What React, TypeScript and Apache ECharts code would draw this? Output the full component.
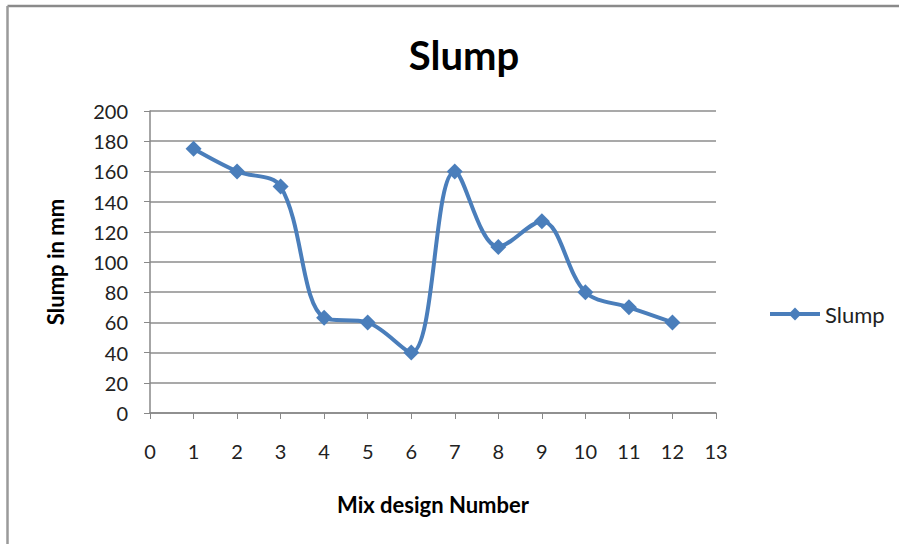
import React, { useEffect, useRef } from "react";
import * as echarts from "echarts";

const mixNumbers = [1, 2, 3, 4, 5, 6, 7, 8, 9, 10, 11, 12];
const slumpValues = [175, 160, 150, 63, 60, 40, 160, 110, 127, 80, 70, 60];
const seriesName = "Slump";
const titleText = "Slump";
const xAxisName = "Mix design Number";
const yAxisName = "Slump in mm";

export default function App() {
  const ref = useRef<HTMLDivElement>(null);
  useEffect(() => {
    const chart = echarts.init(ref.current!, null, { renderer: "svg" });
    const font = "Lato, 'Open Sans', sans-serif";
    chart.setOption({
      animation: false,
      backgroundColor: "#ffffff",
      textStyle: { fontFamily: font },
      title: {
        text: titleText,
        left: 459,
        top: 30,
        textAlign: "center",
        textStyle: { fontSize: 40, fontWeight: "bold", color: "#000", fontFamily: font },
      },
      legend: {
        data: [seriesName],
        left: 768,
        top: 303,
        padding: 0,
        itemWidth: 50,
        itemHeight: 16,
        itemGap: 4,
        lineStyle: { width: 4 },
        textStyle: { fontSize: 22, color: "#222", fontFamily: font },
      },
      grid: { left: 150, top: 111, width: 566, height: 302, containLabel: false },
      xAxis: {
        type: "value",
        min: 0,
        max: 13,
        interval: 1,
        name: xAxisName,
        nameLocation: "middle",
        nameGap: 80,
        nameTextStyle: { fontSize: 22, fontWeight: "bold", color: "#000", fontFamily: font },
        axisLine: { show: true, lineStyle: { color: "#888", width: 1.5 } },
        axisTick: { show: true, length: 6, inside: false, lineStyle: { color: "#888" } },
        axisLabel: { fontSize: 20, color: "#222", margin: 28, fontFamily: font },
        splitLine: { show: false },
      },
      yAxis: {
        type: "value",
        min: 0,
        max: 200,
        interval: 20,
        name: yAxisName,
        nameLocation: "middle",
        nameGap: 84,
        nameTextStyle: { fontSize: 22, fontWeight: "bold", color: "#000", fontFamily: font },
        axisLine: { show: true, lineStyle: { color: "#888", width: 1.5 } },
        axisTick: { show: true, length: 6, lineStyle: { color: "#888" } },
        axisLabel: { fontSize: 20, color: "#222", margin: 22, fontFamily: font },
        splitLine: { show: true, lineStyle: { color: "#8c8c8c", width: 1.5 } },
      },
      series: [
        {
          name: seriesName,
          type: "line",
          data: mixNumbers.map((x, i) => [x, slumpValues[i]]),
          smooth: 0.35,
          symbol: "diamond",
          symbolSize: 16,
          lineStyle: { color: "#4a7ebb", width: 4 },
          itemStyle: { color: "#4a7ebb" },
        },
      ],
      graphic: [
        { type: "line", shape: { x1: 7.5, y1: 6, x2: 899, y2: 6 }, style: { stroke: "#8a8a8a", lineWidth: 2.5 } },
        { type: "line", shape: { x1: 7.5, y1: 6, x2: 7.5, y2: 544 }, style: { stroke: "#9a9a9a", lineWidth: 2.5 } },
      ],
    });
    return () => chart.dispose();
  }, []);
  return (
    <div
      ref={ref}
      style={{ position: "absolute", left: 0, top: 0, width: 899, height: 544 }}
    />
  );
}
